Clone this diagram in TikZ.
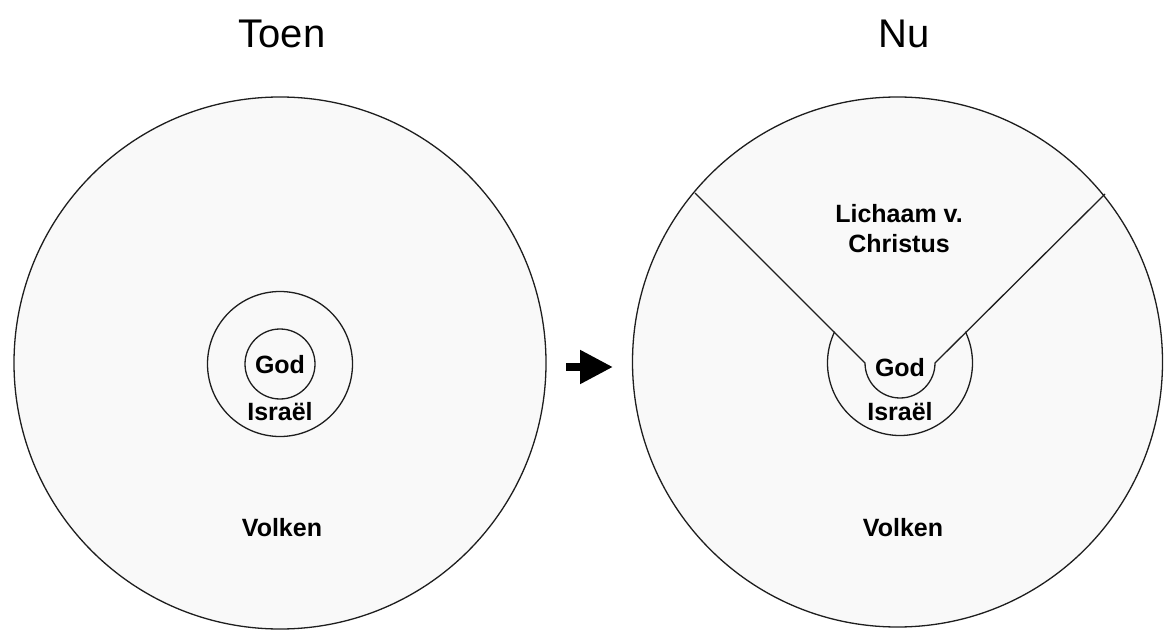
\documentclass[tikz,border=0pt]{standalone}
\usepackage{fontspec}
\setmainfont{Liberation Sans}
\usetikzlibrary{arrows.meta,calc}
\definecolor{discfill}{HTML}{F9F9F9}
\definecolor{rim}{HTML}{1E1E1E}

\begin{document}
\begin{tikzpicture}[x=1pt,y=1pt,
	disc/.style={circle,draw=rim,line width=1.3pt,fill=discfill,inner sep=0pt},
	rimline/.style={draw=rim,line width=1.3pt},
	lbl/.style={font=\fontsize{25}{30}\selectfont\bfseries,inner sep=0pt,anchor=base},
	ttl/.style={font=\fontsize{40}{48}\selectfont,inner sep=0pt,anchor=base}]
\useasboundingbox (0,0) rectangle (1164,630);
% titels
\node[ttl] (toenT) at (282,582) {Toen};
\node[ttl] (nuT) at (904,582) {Nu};
% toen
\node[disc,minimum size=532pt] (toen) at (280,267) {};
\node[disc,minimum size=145pt] (isr) at (280,266) {};
\node[disc,minimum size=70pt] (god) at (280,266) {};
\node[lbl] (godL) at (280,257) {God};
\node[lbl] (isrL) at (280,210) {Israël};
\node[lbl] (volkL) at (282,94) {Volken};
% pijl
\coordinate (pa) at (566,263);
\coordinate (pb) at (613,263);
\draw[line width=8pt,-{Triangle[length=33pt,width=32pt]}] (pa) -- (pb);
% nu
\node[disc,minimum size=530pt] (nu) at (897.5,268) {};
\coordinate (kern) at (900,267);
\coordinate (wl) at ($(kern)+(-35,0)$);
\coordinate (wr) at ($(kern)+(35,0)$);
\coordinate (rl) at (695,437);
\coordinate (rr) at (1105,436);
\draw[rimline] (rl) -- (wl) arc[start angle=180,end angle=360,radius=35] -- (rr);
\draw[rimline] (kern) ++(154.4:72.5) arc[start angle=154.4,end angle=385.6,radius=72.5];
\node[lbl] (godR) at (900,254) {God};
\node[lbl] (isrR) at (900,209.5) {Israël};
\node[lbl] (volkR) at (903,94) {Volken};
\node[lbl] (lich) at (899,407) {Lichaam v.};
\node[lbl] (chr) at (899,377) {Christus};
\end{tikzpicture}
\end{document}
